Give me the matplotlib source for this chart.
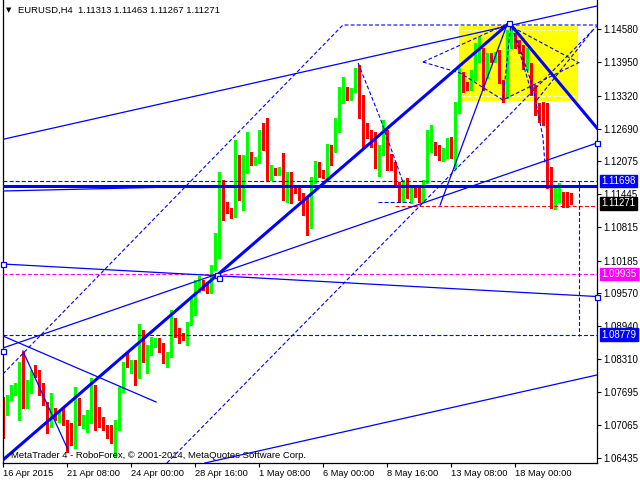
import matplotlib
matplotlib.use("Agg")
import matplotlib.pyplot as plt
import numpy as np

# EURUSD H4 candles, 16 Apr - 19 May 2015
opens = [1.07390, 1.07289, 1.07599, 1.07726, 1.07726, 1.08169, 1.07536, 1.07764, 1.08169, 1.08049,
         1.07764, 1.07346, 1.07194, 1.07289, 1.07232, 1.07289, 1.07124, 1.06966, 1.07124, 1.07441,
         1.07118, 1.07004, 1.07156, 1.07726, 1.07251, 1.07061, 1.07023, 1.07023, 1.06814, 1.07023,
         1.07726, 1.08264, 1.08182, 1.08264, 1.07992, 1.08834, 1.08391, 1.08486, 1.08625, 1.08644,
         1.08518, 1.08328, 1.08391, 1.09056, 1.08885, 1.08758, 1.08676, 1.08993, 1.09214, 1.09639,
         1.09784, 1.09765, 1.09594, 1.10057, 1.10259, 1.11431, 1.11273, 1.11146, 1.11051, 1.12077,
         1.11526, 1.12064, 1.12235, 1.12058, 1.12064, 1.12552, 1.12539, 1.11748, 1.11887, 1.11843,
         1.11906, 1.11380, 1.11811, 1.11570, 1.11431, 1.11431, 1.11273, 1.10969, 1.11716, 1.12014,
         1.11843, 1.11779, 1.12330, 1.12267, 1.12793, 1.13204, 1.13458, 1.13268, 1.13426, 1.13553,
         1.12919, 1.12761, 1.12666, 1.12476, 1.12128, 1.12318, 1.12622, 1.12204, 1.12001, 1.11653,
         1.11431, 1.11684, 1.11399, 1.11570, 1.11526, 1.11368, 1.11684, 1.12476, 1.12368, 1.12368,
         1.12115, 1.12254, 1.12476, 1.12286, 1.13014, 1.13679, 1.13521, 1.13458, 1.13648, 1.13996,
         1.14104, 1.13774, 1.14091, 1.13996, 1.14123, 1.13584, 1.13299, 1.14294, 1.14471, 1.14338,
         1.14249, 1.13838, 1.13901, 1.13489, 1.13141, 1.13109, 1.13014, 1.11620, 1.11292, 1.11463,
         1.11463, 1.11336, 1.11313]
highs = [1.07599, 1.07631, 1.07821, 1.07859, 1.08264, 1.08454, 1.07916, 1.08106, 1.08201, 1.08106,
         1.07859, 1.07498, 1.07669, 1.07384, 1.07346, 1.07384, 1.07156, 1.07099, 1.07789, 1.07574,
         1.07251, 1.07346, 1.07954, 1.07821, 1.07403, 1.07213, 1.07061, 1.07061, 1.07156, 1.07783,
         1.08258, 1.08435, 1.08296, 1.08296, 1.08980, 1.08866, 1.08581, 1.08739, 1.08720, 1.08708,
         1.08613, 1.08454, 1.09246, 1.09094, 1.08904, 1.08803, 1.09024, 1.09468, 1.09816, 1.09892,
         1.09816, 1.09784, 1.10101, 1.10703, 1.11874, 1.11716, 1.11304, 1.11184, 1.12476, 1.12191,
         1.12191, 1.12634, 1.12254, 1.12153, 1.12666, 1.12793, 1.12888, 1.12001, 1.11944, 1.11969,
         1.12223, 1.11874, 1.11874, 1.11621, 1.11564, 1.11463, 1.11368, 1.11779, 1.12077, 1.12052,
         1.11906, 1.12394, 1.12381, 1.12888, 1.13489, 1.13679, 1.13489, 1.13458, 1.13838, 1.13901,
         1.13331, 1.12793, 1.12666, 1.12634, 1.12381, 1.12856, 1.12666, 1.12204, 1.12064, 1.11684,
         1.11716, 1.11748, 1.11589, 1.11589, 1.11558, 1.11716, 1.12666, 1.12761, 1.12444, 1.12381,
         1.12318, 1.12508, 1.12539, 1.13204, 1.13838, 1.13774, 1.13584, 1.13806, 1.14313, 1.14439,
         1.14218, 1.14123, 1.14123, 1.14154, 1.14186, 1.13616, 1.14566, 1.14690, 1.14503, 1.14376,
         1.14281, 1.14218, 1.13933, 1.13521, 1.13173, 1.13192, 1.13173, 1.11969, 1.11621, 1.11653,
         1.11494, 1.11494, 1.11463]
lows = [1.06808, 1.07251, 1.07536, 1.07631, 1.07156, 1.07378, 1.07384, 1.07669, 1.07973, 1.07631,
        1.07441, 1.06909, 1.07023, 1.07156, 1.07118, 1.07061, 1.06554, 1.06681, 1.06624, 1.07061,
        1.07004, 1.06928, 1.07099, 1.06966, 1.07023, 1.06966, 1.06814, 1.06719, 1.06453, 1.06966,
        1.07688, 1.08169, 1.08049, 1.07821, 1.07954, 1.08264, 1.08049, 1.08391, 1.08549, 1.08454,
        1.08239, 1.08169, 1.08359, 1.08739, 1.08619, 1.08676, 1.08581, 1.08961, 1.09151, 1.09594,
        1.09626, 1.09563, 1.09575, 1.10006, 1.10228, 1.10956, 1.11083, 1.10988, 1.11019, 1.11336,
        1.11146, 1.11843, 1.12001, 1.12001, 1.12033, 1.12286, 1.11716, 1.11716, 1.11811, 1.11811,
        1.11336, 1.11304, 1.11273, 1.11463, 1.11336, 1.11051, 1.10671, 1.10798, 1.11653, 1.11779,
        1.11760, 1.11748, 1.12001, 1.12254, 1.12634, 1.13173, 1.13236, 1.13236, 1.13388, 1.12888,
        1.12349, 1.12508, 1.12349, 1.11938, 1.11798, 1.12191, 1.11906, 1.11906, 1.11621, 1.11304,
        1.11304, 1.11368, 1.11273, 1.11399, 1.11304, 1.11304, 1.11653, 1.12254, 1.12191, 1.12096,
        1.12077, 1.12128, 1.12128, 1.11938, 1.12989, 1.13394, 1.13426, 1.13426, 1.13616, 1.13958,
        1.13426, 1.13648, 1.13964, 1.13958, 1.13553, 1.13204, 1.13268, 1.14218, 1.14218, 1.14129,
        1.13825, 1.13806, 1.13331, 1.12951, 1.12824, 1.12761, 1.11558, 1.11190, 1.11165, 1.11304,
        1.11209, 1.11209, 1.11267]
closes = [1.07283, 1.07599, 1.07758, 1.07764, 1.08169, 1.07536, 1.07821, 1.08049, 1.08043, 1.07726,
          1.07504, 1.07194, 1.07289, 1.07232, 1.07289, 1.07156, 1.06776, 1.06776, 1.07504, 1.07124,
          1.07175, 1.07346, 1.07726, 1.07061, 1.07213, 1.07004, 1.06833, 1.06776, 1.07061, 1.07612,
          1.08239, 1.08233, 1.08264, 1.08011, 1.08834, 1.08391, 1.08499, 1.08720, 1.08644, 1.08518,
          1.08328, 1.08410, 1.09024, 1.08834, 1.08739, 1.08708, 1.09024, 1.09259, 1.09670, 1.09797,
          1.09721, 1.09594, 1.10057, 1.10259, 1.11431, 1.11222, 1.11114, 1.11051, 1.12077, 1.11526,
          1.12128, 1.12210, 1.12033, 1.12077, 1.12552, 1.12533, 1.11735, 1.11938, 1.11843, 1.11906,
          1.11380, 1.11811, 1.11558, 1.11482, 1.11393, 1.11241, 1.10969, 1.11716, 1.11982, 1.11824,
          1.11779, 1.12330, 1.12254, 1.12793, 1.13217, 1.13470, 1.13268, 1.13426, 1.13553, 1.12919,
          1.12634, 1.12634, 1.12444, 1.12128, 1.12318, 1.12622, 1.12191, 1.12064, 1.11653, 1.11463,
          1.11684, 1.11399, 1.11570, 1.11494, 1.11368, 1.11697, 1.12571, 1.12590, 1.12254, 1.12128,
          1.12267, 1.12457, 1.12286, 1.13078, 1.13679, 1.13521, 1.13458, 1.13679, 1.14123, 1.14123,
          1.13774, 1.14091, 1.13996, 1.14104, 1.13584, 1.13299, 1.14313, 1.14471, 1.14344, 1.14186,
          1.13838, 1.13901, 1.13521, 1.13109, 1.13014, 1.13014, 1.11589, 1.11304, 1.11444, 1.11589,
          1.11304, 1.11273, 1.11271]

date_ticks = [0, 16, 32, 48, 64, 80, 96, 112, 128]
date_labels = ["16 Apr 2015", "21 Apr 08:00", "24 Apr 00:00", "28 Apr 16:00", "1 May 08:00",
               "6 May 00:00", "8 May 16:00", "13 May 08:00", "18 May 00:00"]
price_ticks = [1.14580, 1.13950, 1.13320, 1.12690, 1.12075, 1.11445, 1.10815,
               1.10185, 1.09570, 1.08940, 1.08310, 1.07695, 1.07065, 1.06435]

# chart objects: anchors as (bar, price)
thick_lines = [[(-0.1, 1.06396), (126.5, 1.14699), (148.4, 1.12704)]]
thin_lines = [
    [(-0.1, 1.12489), (148.4, 1.15022)],
    [(-0.1, 1.10120), (148.4, 1.09502)],
    [(-0.1, 1.08524), (148.4, 1.12419)],
    [(-0.1, 1.08752), (38.2, 1.07498)],
    [(50.4, 1.06339), (148.4, 1.08011)],
    [(4.9, 1.08467), (16.2, 1.06586)],
    [(-0.1, 1.11507), (52.9, 1.11602)],
    [(109.2, 1.11241), (125.9, 1.14661)],
]
dashed_lines = [
    [(-0.1, 1.08030), (84.9, 1.14661), (148.4, 1.14661)],
    [(40.9, 1.06339), (148.4, 1.14642)],
    [(104.9, 1.13958), (126.5, 1.14699)],
    [(104.9, 1.13958), (114.2, 1.13749), (124.9, 1.13236), (143.7, 1.13939)],
    [(127.2, 1.14623), (144.0, 1.13939)],
    [(127.2, 1.14623), (132.4, 1.13293)],
    [(126.8, 1.14623), (124.9, 1.13236)],
    [(133.4, 1.13236), (147.4, 1.14566)],
    [(128.4, 1.14376), (132.4, 1.13483), (134.9, 1.12533), (135.4, 1.12039)],
    [(88.7, 1.13939), (94.2, 1.12894), (99.9, 1.11678)],
    [(93.7, 1.11304), (101.7, 1.11304)],
    [(144.0, 1.11697), (144.0, 1.08752)],
]
markers = [(-0.1, 1.10120), (-0.1, 1.08470), (53.3, 1.09915), (53.8, 1.09860),
           (126.5, 1.14699), (148.4, 1.12419), (148.4, 1.09502)]
hline_level = 1.11608
fib_box = (113.9, 143.7, 1.13223, 1.14642)
fib_levels = [1.14566, 1.13933, 1.13312]
tags = [(1.11698, "#0000ff"), (1.11271, "#000000"), (1.09935, "#ff00ff"), (1.08779, "#0000ff")]

BLUE = "#0000ff"
DASH = (0, (3.5, 2))
plt.rcParams['font.family'] = ['Liberation Sans', 'DejaVu Sans']

fig = plt.figure(figsize=(6.4, 4.8), dpi=100)
ax = fig.add_axes([3 / 640, 17 / 480, 594 / 640, 463 / 480])
ax.set_xlim(-0.075, 148.425)
ax.set_ylim(1.06339, 1.15136)

# fibo box
x0, x1, y0, y1 = fib_box
ax.add_patch(plt.Rectangle((x0, y0), x1 - x0, y1 - y0, fc="#ffff00", ec="none", zorder=0.5))
for lv in fib_levels:
    ax.plot([x0 + 0.5, x1 - 0.5], [lv, lv], color="white", lw=0.8, ls=DASH, zorder=0.6)

# candles
o, h, l, c = map(np.array, (opens, highs, lows, closes))
idx = np.arange(len(o))
col = np.where(c >= o, "#00ff00", "#ff0000")
ax.vlines(idx, l, h, colors=col, lw=1.0, zorder=2, antialiased=False)
ax.bar(idx, np.maximum(np.abs(c - o), 0.00008), 0.8, bottom=np.minimum(o, c),
       color=col, lw=0, zorder=2.1, antialiased=False)

# horizontal levels
ax.axhline(hline_level, color=BLUE, lw=2.2, zorder=3)
ax.axhline(1.11698, color=BLUE, lw=0.8, ls=DASH, zorder=3)
ax.axhline(1.09935, color="#ff00ff", lw=0.8, ls=DASH, zorder=3)
ax.axhline(1.08779, color=BLUE, lw=0.8, ls=DASH, zorder=3)
ax.plot([97.9, 148.5], [1.11222, 1.11222], color="#ff0000", lw=0.8, ls=DASH, zorder=3)

for pts in thick_lines:
    xs, ys = zip(*pts)
    ax.plot(xs, ys, color=BLUE, lw=2.2, zorder=3.2)
for pts in thin_lines:
    xs, ys = zip(*pts)
    ax.plot(xs, ys, color=BLUE, lw=0.9, zorder=3)
for pts in dashed_lines:
    xs, ys = zip(*pts)
    ax.plot(xs, ys, color=BLUE, lw=0.8, ls=DASH, zorder=3)
mx, my = zip(*markers)
ax.plot(mx, my, ls="none", marker="s", ms=3.6, mfc="white", mec=BLUE, mew=0.9,
        zorder=3.5, clip_on=False)

# axes look
ax.spines["top"].set_visible(False)
for s in ("left", "right", "bottom"):
    ax.spines[s].set_linewidth(0.9)
ax.yaxis.tick_right()
ax.set_yticks(price_ticks)
ax.set_yticklabels([f"{v:.5f}" for v in price_ticks])
ax.tick_params(axis="y", direction="out", length=3, width=0.8, pad=1.5, labelsize=7)
ax.set_xticks(date_ticks)
ax.set_xticklabels(date_labels)
ax.tick_params(axis="x", direction="out", length=3, width=0.8, pad=1.2, labelsize=6.7)
for t in ax.get_xticklabels():
    t.set_horizontalalignment("left")

for price, fc in tags:
    ax.text(1.0 + 4.5 / 594, price, f"{price:.5f}", transform=ax.get_yaxis_transform(),
            ha="left", va="center", fontsize=7, color="white", zorder=6, clip_on=False,
            bbox=dict(boxstyle="square,pad=0.12", fc=fc, ec=fc))

fig.text(6 / 640, 1 - 10 / 480, "\u25bc", fontsize=5, va="center", ha="left",
         family=["DejaVu Sans"])
fig.text(18 / 640, 1 - 10 / 480, "EURUSD,H4  1.11313 1.11463 1.11267 1.11271",
         fontsize=6.8, va="center", ha="left")
ax.text(8 / 594, 1 - 455 / 463, "MetaTrader 4 - RoboForex, \u00a9 2001-2014, MetaQuotes Software Corp.",
        transform=ax.transAxes, fontsize=6.8, va="center", ha="left", zorder=7)

fig.savefig("out.png", dpi=100)
